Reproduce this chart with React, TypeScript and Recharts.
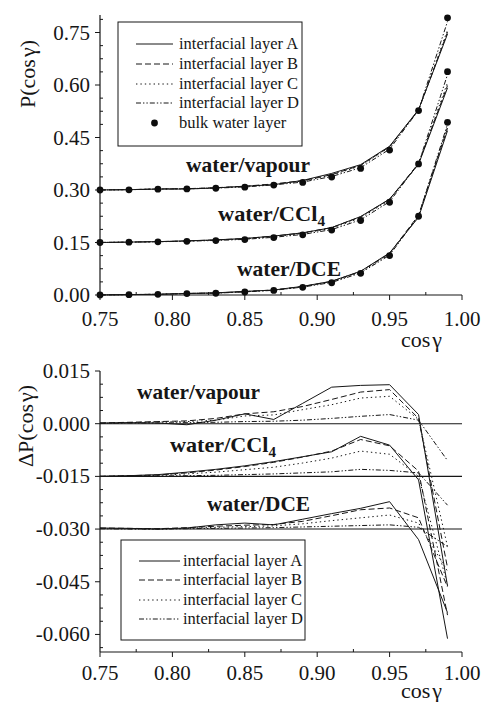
import React from 'react';
import { LineChart, Line, XAxis, YAxis, ReferenceLine } from 'recharts';

// cos γ sample points
const cosGamma = [0.75, 0.77, 0.79, 0.81, 0.83, 0.85, 0.87, 0.89, 0.91, 0.93, 0.95, 0.97, 0.99];

// P(cos γ) – water/vapour
const vapourBulk = [0.0, 0.0006, 0.0025, 0.003, 0.005, 0.008, 0.014, 0.0216, 0.037, 0.0616, 0.114, 0.227, 0.492];
const vapourA = [0.0002, 0.0009, 0.0027, 0.0027, 0.006, 0.0108, 0.0152, 0.0274, 0.0474, 0.0725, 0.1251, 0.2296, 0.4458];
const vapourB = [0.0002, 0.001, 0.0031, 0.0038, 0.0065, 0.0108, 0.0174, 0.0265, 0.0439, 0.0706, 0.1237, 0.2285, 0.451];
const vapourC = [0.0001, 0.0009, 0.003, 0.0036, 0.006, 0.0102, 0.0165, 0.0256, 0.0424, 0.0689, 0.1218, 0.2282, 0.457];
const vapourD = [0.0001, 0.0008, 0.0027, 0.0033, 0.0054, 0.0086, 0.0147, 0.0226, 0.0385, 0.0637, 0.1166, 0.228, 0.4815];

// P(cos γ) – water/CCl4
const ccl4Bulk = [0.0, 0.001, 0.002, 0.0035, 0.0055, 0.0085, 0.0142, 0.022, 0.0355, 0.0628, 0.115, 0.2246, 0.488];
const ccl4A = [0.0, 0.0012, 0.0025, 0.0047, 0.0075, 0.0115, 0.0184, 0.0276, 0.0425, 0.0742, 0.1239, 0.2236, 0.4418];
const ccl4B = [0.0, 0.0012, 0.0024, 0.0045, 0.0073, 0.0113, 0.0182, 0.0275, 0.0427, 0.0733, 0.1237, 0.2261, 0.4485];
const ccl4C = [0.0, 0.0011, 0.0023, 0.0042, 0.0067, 0.0104, 0.0168, 0.0258, 0.0407, 0.07, 0.1213, 0.2246, 0.457];
const ccl4D = [0.0, 0.001, 0.0021, 0.0037, 0.0058, 0.009, 0.0149, 0.023, 0.0368, 0.0648, 0.1167, 0.2256, 0.4798];

// P(cos γ) – water/DCE
const dceBulk = [0.0, 0.001, 0.002, 0.004, 0.005, 0.0086, 0.013, 0.022, 0.035, 0.062, 0.1126, 0.225, 0.4933];
const dceA = [0.0003, 0.0012, 0.002, 0.0043, 0.0062, 0.0103, 0.0142, 0.0248, 0.0394, 0.0679, 0.1204, 0.222, 0.4695];
const dceB = [0.0003, 0.0012, 0.0021, 0.0044, 0.0058, 0.0097, 0.0143, 0.0242, 0.0388, 0.0675, 0.1186, 0.2282, 0.4768];
const dceC = [0.0002, 0.0011, 0.002, 0.0042, 0.0055, 0.0093, 0.0139, 0.0235, 0.0374, 0.0652, 0.1166, 0.2267, 0.4813];
const dceD = [0.0001, 0.001, 0.002, 0.0041, 0.0052, 0.0089, 0.0134, 0.0226, 0.0358, 0.063, 0.1138, 0.2255, 0.4883];

// ΔP(cos γ) = interfacial layer − bulk
const vapourDeltaA = [0.0002, 0.0003, 0.0002, -0.0003, 0.001, 0.0028, 0.0012, 0.0058, 0.0104, 0.0109, 0.0111, 0.0026, -0.0462];
const vapourDeltaB = [0.0002, 0.0004, 0.0006, 0.0008, 0.0015, 0.0028, 0.0034, 0.0049, 0.0069, 0.009, 0.0097, 0.0015, -0.041];
const vapourDeltaC = [0.0001, 0.0003, 0.0005, 0.0006, 0.001, 0.0022, 0.0025, 0.004, 0.0054, 0.0073, 0.0078, 0.0012, -0.035];
const vapourDeltaD = [0.0001, 0.0002, 0.0002, 0.0003, 0.0004, 0.0006, 0.0007, 0.001, 0.0015, 0.0021, 0.0026, 0.001, -0.0105];

const ccl4DeltaA = [0.0, 0.0002, 0.0005, 0.0012, 0.002, 0.003, 0.0042, 0.0056, 0.007, 0.0114, 0.0089, -0.001, -0.0462];
const ccl4DeltaB = [0.0, 0.0002, 0.0004, 0.001, 0.0018, 0.0028, 0.004, 0.0055, 0.0072, 0.0105, 0.0087, 0.0015, -0.0395];
const ccl4DeltaC = [0.0, 0.0001, 0.0003, 0.0007, 0.0012, 0.0019, 0.0026, 0.0038, 0.0052, 0.0072, 0.0063, 0.0, -0.031];
const ccl4DeltaD = [0.0, 0.0, 0.0001, 0.0002, 0.0003, 0.0005, 0.0007, 0.001, 0.0013, 0.002, 0.0017, 0.001, -0.0082];

const dceDeltaA = [0.0003, 0.0002, 0.0, 0.0003, 0.0012, 0.0017, 0.0012, 0.0028, 0.0044, 0.0059, 0.0078, -0.003, -0.0238];
const dceDeltaB = [0.0003, 0.0002, 0.0001, 0.0004, 0.0008, 0.0011, 0.0013, 0.0022, 0.0038, 0.0055, 0.006, 0.0032, -0.0165];
const dceDeltaC = [0.0002, 0.0001, 0.0, 0.0002, 0.0005, 0.0007, 0.0009, 0.0015, 0.0024, 0.0032, 0.004, 0.0017, -0.012];
const dceDeltaD = [0.0001, 0.0, 0.0, 0.0001, 0.0002, 0.0003, 0.0004, 0.0006, 0.0008, 0.001, 0.0012, 0.0005, -0.005];

// vertical shifts used to separate the three systems
const pOffset = { vapour: 0.3, ccl4: 0.15, dce: 0.0 };
const dpOffset = { vapour: 0.0, ccl4: -0.015, dce: -0.03 };

const layerNames = ['A', 'B', 'C', 'D'];
const legendLabels = ['interfacial layer A', 'interfacial layer B', 'interfacial layer C', 'interfacial layer D'];
const bulkLabel = 'bulk water layer';

const xMajor = [0.75, 0.8, 0.85, 0.9, 0.95, 1.0];
const pMajor = [0.0, 0.15, 0.3, 0.45, 0.6, 0.75];
const dpMajor = [-0.06, -0.045, -0.03, -0.015, 0.0, 0.015];

const pSeries: Record<string, number[][]> = {
  vapour: [vapourA, vapourB, vapourC, vapourD],
  ccl4: [ccl4A, ccl4B, ccl4C, ccl4D],
  dce: [dceA, dceB, dceC, dceD],
};
const pBulk: Record<string, number[]> = { vapour: vapourBulk, ccl4: ccl4Bulk, dce: dceBulk };
const dpSeries: Record<string, number[][]> = {
  vapour: [vapourDeltaA, vapourDeltaB, vapourDeltaC, vapourDeltaD],
  ccl4: [ccl4DeltaA, ccl4DeltaB, ccl4DeltaC, ccl4DeltaD],
  dce: [dceDeltaA, dceDeltaB, dceDeltaC, dceDeltaD],
};
const systems = ['vapour', 'ccl4', 'dce'] as const;

// tick positions: majors plus evenly spaced minors
function tickList(start: number, step: number, count: number): number[] {
  const out: number[] = [];
  for (let k = 0; k < count; k++) out.push(Math.round((start + k * step) * 1e6) / 1e6);
  return out;
}
const xTicks = tickList(0.75, 0.025, 11);
const pTicks = tickList(0.0, 0.0375, 22);
const dpTicks = tickList(-0.06375, 0.00375, 22);

const topRows = cosGamma.map((x, i) => {
  const row: Record<string, number> = { x };
  systems.forEach((s) => {
    pSeries[s].forEach((arr, j) => {
      row[`${s}_${layerNames[j]}`] = arr[i] + pOffset[s];
    });
    row[`${s}_bulk`] = pBulk[s][i] + pOffset[s];
  });
  return row;
});

const bottomRows = cosGamma.map((x, i) => {
  const row: Record<string, number> = { x };
  systems.forEach((s) => {
    dpSeries[s].forEach((arr, j) => {
      row[`${s}_${layerNames[j]}`] = arr[i] + dpOffset[s];
    });
  });
  return row;
});

const FONT = 'Liberation Serif';
const INK = '#161616';
const dashes = [undefined, '6 3', '1.4 3', '5 2 1.4 2 1.4 2'];
const textStyle = { fontFamily: FONT };

type Side = 'bottom' | 'left' | 'top' | 'right';

function makeTick(side: Side, majors: number[], digits: number, labelDy: number) {
  return function Tick(props: any) {
    const { x, y, payload } = props;
    const v = Number(payload.value);
    const major = majors.some((m) => Math.abs(m - v) < 1e-7);
    const outer = side === 'bottom' || side === 'left';
    const inLen = outer ? (major ? 0 : 3) : major ? 5 : 3;
    const outLen = outer && major ? 5 : 0;
    let mark: React.ReactNode = null;
    if (side === 'bottom') mark = <line x1={x} x2={x} y1={y - inLen} y2={y + outLen} stroke={INK} strokeWidth={1} />;
    if (side === 'top') mark = <line x1={x} x2={x} y1={y} y2={y + inLen} stroke={INK} strokeWidth={1} />;
    if (side === 'left') mark = <line x1={x - outLen} x2={x + inLen} y1={y} y2={y} stroke={INK} strokeWidth={1} />;
    if (side === 'right') mark = <line x1={x - inLen} x2={x} y1={y} y2={y} stroke={INK} strokeWidth={1} />;
    let label: React.ReactNode = null;
    if (major && side === 'bottom') {
      label = (
        <text x={x} y={y + labelDy} textAnchor="middle" fontSize={21} fontFamily={FONT} style={textStyle} fill={INK}>
          {v.toFixed(digits)}
        </text>
      );
    }
    if (major && side === 'left') {
      label = (
        <text x={x - 10} y={y + labelDy} textAnchor="end" fontSize={21} fontFamily={FONT} style={textStyle} fill={INK}>
          {Math.abs(v) < 1e-9 ? (0).toFixed(digits) : v.toFixed(digits)}
        </text>
      );
    }
    return (
      <g>
        {mark}
        {label}
      </g>
    );
  };
}

const axisLine = { stroke: INK, strokeWidth: 1.2 };

function layerLines() {
  const out: React.ReactNode[] = [];
  systems.forEach((s) => {
    layerNames.forEach((L, j) => {
      out.push(
        <Line
          key={`${s}_${L}`}
          type="linear"
          dataKey={`${s}_${L}`}
          stroke={INK}
          strokeWidth={1}
          strokeDasharray={dashes[j]}
          dot={false}
          activeDot={false}
          isAnimationActive={false}
        />
      );
    });
  });
  return out;
}

function TopChart() {
  return (
    <LineChart width={487} height={351} data={topRows} margin={{ top: 15, right: 25, bottom: 0, left: 0 }}>
      <XAxis
        dataKey="x"
        type="number"
        domain={[0.75, 1.0]}
        ticks={xTicks}
        interval={0}
        height={56}
        tickSize={0}
        tickMargin={0}
        axisLine={axisLine}
        tickLine={false}
        tick={makeTick('bottom', xMajor, 2, 31)}
      />
      <XAxis
        xAxisId="top"
        orientation="top"
        dataKey="x"
        type="number"
        domain={[0.75, 1.0]}
        ticks={xTicks}
        interval={0}
        height={0}
        tickSize={0}
        tickMargin={0}
        axisLine={axisLine}
        tickLine={false}
        tick={makeTick('top', xMajor, 2, 0)}
      />
      <YAxis
        type="number"
        domain={[0, 0.8]}
        ticks={pTicks}
        interval={0}
        width={100}
        tickSize={0}
        tickMargin={0}
        axisLine={axisLine}
        tickLine={false}
        tick={makeTick('left', pMajor, 2, 7)}
      />
      <YAxis
        yAxisId="right"
        orientation="right"
        type="number"
        domain={[0, 0.8]}
        ticks={pTicks}
        interval={0}
        width={0}
        tickSize={0}
        tickMargin={0}
        axisLine={axisLine}
        tickLine={false}
        tick={makeTick('right', pMajor, 2, 0)}
      />
      {layerLines()}
      {systems.map((s) => (
        <Line
          key={`${s}_bulk`}
          dataKey={`${s}_bulk`}
          stroke="none"
          dot={{ r: 3.4, fill: '#0d0d0d', stroke: 'none' }}
          activeDot={false}
          isAnimationActive={false}
        />
      ))}
    </LineChart>
  );
}

function BottomChart() {
  return (
    <LineChart width={487} height={351} data={bottomRows} margin={{ top: 20, right: 25, bottom: 0, left: 0 }}>
      <XAxis
        dataKey="x"
        type="number"
        domain={[0.75, 1.0]}
        ticks={xTicks}
        interval={0}
        height={50}
        tickSize={0}
        tickMargin={0}
        axisLine={axisLine}
        tickLine={false}
        tick={makeTick('bottom', xMajor, 2, 28)}
      />
      <XAxis
        xAxisId="top"
        orientation="top"
        dataKey="x"
        type="number"
        domain={[0.75, 1.0]}
        ticks={xTicks}
        interval={0}
        height={0}
        tickSize={0}
        tickMargin={0}
        axisLine={axisLine}
        tickLine={false}
        tick={makeTick('top', xMajor, 2, 0)}
      />
      <YAxis
        type="number"
        domain={[-0.065, 0.015]}
        ticks={dpTicks}
        interval={0}
        width={100}
        tickSize={0}
        tickMargin={0}
        axisLine={axisLine}
        tickLine={false}
        tick={makeTick('left', dpMajor, 3, 7)}
      />
      <YAxis
        yAxisId="right"
        orientation="right"
        type="number"
        domain={[-0.065, 0.015]}
        ticks={dpTicks}
        interval={0}
        width={0}
        tickSize={0}
        tickMargin={0}
        axisLine={axisLine}
        tickLine={false}
        tick={makeTick('right', dpMajor, 3, 0)}
      />
      {systems.map((s) => (
        <ReferenceLine key={`ref_${s}`} y={dpOffset[s]} stroke={INK} strokeWidth={1.1} />
      ))}
      {layerLines()}
    </LineChart>
  );
}

function LegendBox(props: { x: number; y: number; w: number; h: number; rows: number[]; lineX: [number, number]; textX: number; withBulk: boolean }) {
  const { x, y, w, h, rows, lineX, textX, withBulk } = props;
  return (
    <g>
      <rect x={x} y={y} width={w} height={h} fill="#fff" stroke={INK} strokeWidth={1} />
      {legendLabels.map((lab, j) => (
        <g key={lab}>
          <line x1={lineX[0]} x2={lineX[1]} y1={rows[j]} y2={rows[j]} stroke={INK} strokeWidth={1} strokeDasharray={dashes[j]} />
          <text x={textX} y={rows[j] + 5} fontSize={16.5} fontFamily={FONT} style={textStyle} fill={INK}>
            {lab}
          </text>
        </g>
      ))}
      {withBulk && (
        <g>
          <circle cx={(lineX[0] + lineX[1]) / 2} cy={rows[4]} r={3.4} fill="#0d0d0d" />
          <text x={textX} y={rows[4] + 5} fontSize={16.5} fontFamily={FONT} style={textStyle} fill={INK}>
            {bulkLabel}
          </text>
        </g>
      )}
    </g>
  );
}

function SysLabel(props: { x: number; y: number; w: number; kind: 'vapour' | 'ccl4' | 'dce' }) {
  const { x, y, w, kind } = props;
  const common = {
    x,
    y,
    fontSize: 22,
    fontWeight: 700,
    fontFamily: FONT,
    style: textStyle,
    fill: INK,
    textLength: w,
    lengthAdjust: 'spacingAndGlyphs',
  } as const;
  if (kind === 'ccl4') {
    return (
      <text {...common}>
        water/CCl
        <tspan fontSize={15} dy={5}>
          4
        </tspan>
      </text>
    );
  }
  return <text {...common}>{kind === 'vapour' ? 'water/vapour' : 'water/DCE'}</text>;
}

function CosLabel(props: { x: number; y: number }) {
  return (
    <text x={props.x} y={props.y} fontSize={22} fontFamily={FONT} style={textStyle} fill={INK}>
      cos
      <tspan dx={2}>γ</tspan>
    </text>
  );
}

export default function App() {
  return (
    <div style={{ position: 'absolute', left: 0, top: 0, width: 487, height: 702, background: '#fff', fontFamily: FONT }}>
      <div style={{ position: 'absolute', left: 0, top: 0 }}>
        <TopChart />
      </div>
      <div style={{ position: 'absolute', left: 0, top: 351 }}>
        <BottomChart />
      </div>
      <svg width={487} height={702} style={{ position: 'absolute', left: 0, top: 0, pointerEvents: 'none' }}>
        <LegendBox x={118} y={22} w={184} h={124} rows={[44, 64, 84, 103, 123]} lineX={[136, 173]} textX={179} withBulk />
        <LegendBox x={121} y={540} w={184} h={100} rows={[561, 580, 600, 619]} lineX={[139, 180]} textX={183} withBulk={false} />
        <SysLabel x={186} y={172} w={124} kind="vapour" />
        <SysLabel x={218} y={221} w={107} kind="ccl4" />
        <SysLabel x={237} y={276} w={104} kind="dce" />
        <SysLabel x={137} y={399} w={123} kind="vapour" />
        <SysLabel x={170} y={452} w={106} kind="ccl4" />
        <SysLabel x={207} y={511} w={103} kind="dce" />
        <CosLabel x={401} y={347} />
        <CosLabel x={401} y={698} />
        <text transform="translate(35,74) rotate(-90)" textAnchor="middle" fontSize={22} fontFamily={FONT} style={textStyle} fill={INK}>
          P(cos<tspan dx={2}>γ</tspan>)
        </text>
        <text transform="translate(33,426) rotate(-90)" textAnchor="middle" fontSize={22} fontFamily={FONT} style={textStyle} fill={INK}>
          ΔP(cos<tspan dx={2}>γ</tspan>)
        </text>
      </svg>
    </div>
  );
}
